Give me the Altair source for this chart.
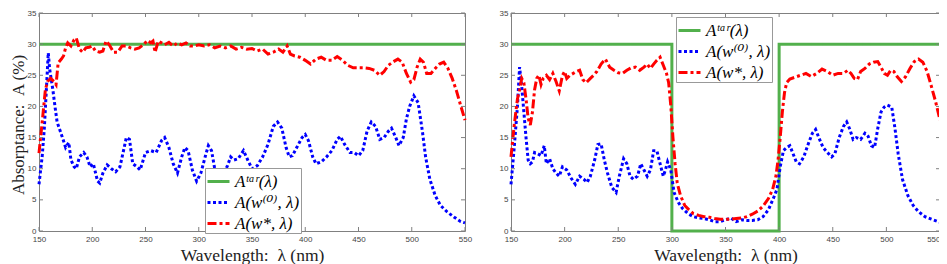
import altair as alt
import pandas as pd

# ---------------- data ----------------
x_ticks = [150, 200, 250, 300, 350, 400, 450, 500, 550]
y_ticks = [0, 5, 10, 15, 20, 25, 30, 35]

series_names = ["Aᵗᵃʳ(λ)", "A(w⁽⁰⁾, λ)", "A(w*, λ)"]
series_colors = ["#52b04c", "#0000ff", "#ff0000"]
series_dashes = [[1, 0], [3, 2.5], [9, 3, 3, 3]]

# left panel: flat target
L_tar_x = [150, 550]
L_tar_y = [30, 30]

L_w0_x = [150, 153, 155, 157, 158.7, 160, 163, 165, 167, 170, 173, 175, 178, 180, 183, 185, 188, 192,
          195, 198, 201, 205, 207, 210, 214, 218, 222, 226, 230, 232, 235, 238, 242, 245, 250, 255,
          260, 265, 268, 272, 276, 280, 284, 287, 290, 294, 298, 302, 306, 309, 312, 315, 319, 323,
          327, 330, 333, 337, 342, 346, 350, 355, 360, 365, 370, 374, 378, 382, 385, 388, 392, 397,
          400, 403, 407, 410, 415, 420, 425, 430, 433, 437, 442, 446, 450, 454, 458, 462, 466, 470,
          474, 478, 481, 485, 488, 492, 495, 498, 502, 506, 510, 513, 517, 522, 527, 533, 540, 546, 550]
L_w0_y = [7.5, 12, 16.5, 23, 28.6, 26, 22.7, 20, 17.5, 16, 14.5, 13.4, 14.2, 11.4, 10.3, 10, 11.9, 12.6,
          11.9, 10.3, 10.8, 8, 7.7, 9.3, 10.6, 10, 9.5, 10.3, 13.4, 15, 14.7, 10.8, 10.3, 9.8, 12.6, 12.9,
          12.6, 14.5, 15, 13.4, 10.8, 9.3, 11.9, 13.4, 12.9, 9.8, 8, 9.3, 11.9, 13.7, 12.9, 10, 9.5, 9.0,
          10.5, 11.9, 11.4, 11.6, 12.9, 11.4, 10, 10.5, 11.9, 13.9, 16.8, 17.5, 16.5, 13.4, 11.9, 12.1, 13.4, 15,
          15.5, 14.5, 11.9, 10.8, 11.1, 11.9, 12.9, 14.7, 15.2, 13.9, 12.6, 12.6, 12.1, 12.9, 16, 17.5, 16.8, 14.7,
          15, 16, 16.5, 15, 13.7, 15, 18, 20, 21.7, 20.6, 16, 11.9, 8.3, 5.7, 4.1, 3.1, 2.2, 1.5, 1.3]

L_ws_x = [150, 153, 156, 158, 161, 164, 166, 168, 171, 173, 175, 177, 180, 183, 185, 188, 191, 194, 197,
          200, 203, 207, 210, 213, 216, 220, 224, 228, 232, 236, 240, 244, 248, 252, 255, 257, 259, 262,
          265, 268, 272, 276, 280, 284, 288, 292, 296, 300, 305, 310, 315, 320, 325, 330, 335, 340, 345,
          350, 355, 360, 365, 370, 375, 379, 383, 386, 390, 395, 400, 405, 410, 415, 420, 425, 430, 435,
          440, 445, 450, 455, 460, 465, 470, 474, 478, 482, 487, 491, 495, 499, 502, 505, 508, 511, 514,
          518, 522, 526, 530, 534, 538, 542, 546, 550]
L_ws_y = [12.5, 17.5, 22.7, 24, 24.5, 24, 23.5, 27, 27.6, 28.1, 29.4, 30.2, 29.7, 30.7, 31, 29.2, 28.7, 29.4, 29.5,
          29.7, 28.9, 28.7, 28.9, 30.5, 29.9, 28.7, 28.7, 29.7, 29.7, 29.4, 29.2, 29.4, 29.9, 30.6, 30.2, 30.5, 28.7, 30.5,
          30.2, 29.9, 30.3, 29.7, 30.2, 29.9, 30.2, 29.7, 29.7, 29.9, 29.7, 29.9, 29.4, 29.7, 29.4, 29.7, 29.2, 29.5, 29.2,
          29.3, 28.9, 29.2, 28.4, 28.7, 29.2, 28.7, 29.7, 28.4, 28.1, 27.9, 27.4, 26.8, 27.6, 27.9, 27.4, 27.4, 28, 27.4,
          26.6, 26.2, 26.2, 26.2, 26.1, 25.8, 25, 25.6, 26.6, 27.1, 27.6, 27.1, 25.3, 23.9, 24.3, 26.3, 27.6, 27.1, 25.3,
          25.3, 26.1, 26.8, 27.1, 26.1, 24.5, 22.5, 20.1, 17.8]

# right panel: notch target
R_tar_x = [150, 300, 300, 400, 400, 550]
R_tar_y = [30, 30, 0, 0, 30, 30]

R_w0_x = [150, 153, 156, 158, 160, 162, 164, 166, 168, 170, 172, 175, 178, 181, 183, 186, 189, 192, 195,
          198, 202, 206, 210, 214, 218, 221, 224, 228, 231, 234, 237, 240, 244, 248, 251, 255, 258, 261,
          264, 268, 271, 274, 277, 280, 283, 286, 289, 292, 294, 296, 299, 302, 306, 310, 315, 320, 325,
          330, 335, 340, 345, 350, 355, 360, 365, 370, 375, 380, 385, 390, 395, 398, 401, 404, 407, 410,
          413, 416, 419, 423, 427, 431, 434, 437, 441, 445, 449, 452, 456, 460, 463, 466, 469, 472, 476,
          480, 483, 486, 489, 492, 495, 498, 501, 505, 508, 511, 515, 520, 525, 530, 536, 542, 550]
R_w0_y = [7.5, 13.4, 20, 26.3, 23.2, 19.1, 15, 11.4, 10.8, 11.1, 12.6, 12.4, 12.1, 13.7, 10.8, 11.6, 10, 9.3, 8.8,
          10.3, 9.8, 8.5, 7.5, 8.8, 8.3, 7.8, 8.8, 11.4, 13.9, 14, 11.4, 9.3, 7, 6.2, 8.8, 11.6, 10.8, 8.8,
          8.3, 8.8, 10.8, 9.8, 8.8, 9.8, 12.9, 12.9, 10.8, 8.8, 9.8, 11.1, 9.8, 6.2, 4.6, 3.6, 2.8, 2.3, 2.1,
          2, 1.8, 1.5, 1.5, 1.8, 2.1, 1.5, 1.8, 1.7, 1.7, 1.8, 2.3, 3.4, 5.4, 6.7, 10.3, 12.9, 13.4, 13.7,
          12.4, 11.1, 10.8, 11.9, 13.9, 15.7, 16.3, 15, 13.4, 12.6, 11.9, 12.4, 15, 16.8, 17.5, 16.3, 14.7, 15, 14.7,
          15.7, 15.2, 13.7, 13.4, 16.5, 19.1, 19.9, 20.2, 19.9, 16.5, 12.4, 8.3, 5.7, 4.1, 3.1, 2.3, 1.9, 1.4]

R_ws_x = [150, 153, 156, 158, 160, 162, 164, 166, 168, 170, 172, 174, 176, 178, 180, 183, 186, 189, 192,
          195, 198, 200, 202, 205, 208, 211, 214, 217, 220, 224, 227, 230, 234, 238, 242, 246, 250, 254,
          258, 262, 266, 270, 274, 277, 280, 283, 286, 289, 292, 295, 297, 299, 301, 303, 305, 308, 312,
          316, 320, 325, 330, 335, 340, 345, 350, 355, 360, 365, 370, 375, 380, 385, 390, 394, 397, 399,
          401, 403, 405, 407, 410, 415, 420, 425, 430, 435, 440, 445, 450, 455, 460, 464, 467, 470, 473,
          476, 480, 484, 488, 492, 495, 498, 501, 504, 507, 510, 514, 518, 522, 526, 530, 534, 538, 542, 546, 550]
R_ws_y = [11.9, 17, 21.2, 22.7, 24.5, 23.8, 21.2, 18.1, 17, 19.1, 22.7, 24.5, 25, 23.5, 24.5, 25, 24.3, 25.3, 24,
          22.5, 25, 25.6, 24.5, 25, 25.3, 25.6, 25.8, 24.3, 23.8, 24.5, 25, 25.6, 26.8, 27.6, 26.3, 25.8, 25.4, 25.3,
          25.8, 26.2, 26.3, 25.8, 26.3, 26.8, 26.1, 26.8, 27.4, 27.9, 26.6, 25.3, 23.8, 20.1, 15, 10.8, 7.7, 5.7, 4.1,
          3.4, 2.8, 2.5, 2.3, 2.2, 2, 1.9, 1.9, 1.9, 2, 2.1, 2.3, 2.7, 3.2, 4, 5.2, 6.7, 8.8, 11.4,
          15, 19.1, 22.2, 23.8, 24.4, 24.7, 25, 25.3, 24.8, 25.3, 26, 25.6, 25, 25.3, 25.3, 25.8, 25.3, 24.5, 24.3,
          25.6, 26.1, 26.8, 27.1, 27.2, 26.3, 25.3, 25, 25.8, 25.6, 24.8, 24, 24.8, 26.1, 27.2, 27.6, 27.1, 25.6, 23.2, 20.7, 17.8]

# ---------------- styling ----------------
AX = "#808080"
W_L, W_R, H = 426, 429, 218
SERIF = "Liberation Serif, DejaVu Serif, serif"
SANS = "Liberation Sans, Arial, sans-serif"


def make_df(xs, ys, name):
    return pd.DataFrame({"wl": xs, "A": ys, "series": name, "idx": list(range(len(xs)))})


def panel(tar, w0, ws, width, lx, ly, ytitle, flush_last):
    xscale = alt.Scale(domain=[150, 550], nice=False, zero=False)
    yscale = alt.Scale(domain=[0, 35], nice=False)
    xargs = dict(values=x_ticks, ticks=False, domain=False, grid=False,
                 labelFont=SANS, labelFontSize=8, labelColor="#444444", labelPadding=4,
                 labelFlush=False, title="Wavelength:\u00a0\u00a0λ (nm)", titleFont=SERIF,
                 titleFontSize=17.5, titleFontWeight="normal", titleColor="#222222",
                 titlePadding=3)
    if flush_last:
        xargs["labelAlign"] = {"condition": {"test": "datum.value >= 550", "value": "right"},
                               "value": "center"}
    xaxis = alt.Axis(**xargs)
    yargs = dict(values=y_ticks, ticks=False, domain=False, grid=False,
                 labelFont=SANS, labelFontSize=8, labelColor="#444444", labelPadding=3,
                 labelFlush=False)
    if ytitle:
        yaxis = alt.Axis(title=ytitle, titleFont=SERIF, titleFontSize=17, titleY=111.5,
                         titleFontWeight="normal", titleColor="#222222", titlePadding=0, **yargs)
    else:
        yaxis = alt.Axis(title=None, **yargs)
    leg = alt.Legend(title=None, orient="none", legendX=lx, legendY=ly, symbolType="stroke",
                     symbolSize=484, symbolStrokeWidth=3, labelFont=SERIF, labelFontSize=17,
                     labelFontStyle="italic", labelColor="black", strokeColor="#999999",
                     fillColor="white", padding=1, rowPadding=-4, labelOffset=4, labelLimit=300,
                     direction="vertical")
    cscale = alt.Scale(domain=series_names, range=series_colors)
    dscale = alt.Scale(domain=series_names, range=series_dashes)

    layers = []
    for xs_ys, name in zip([tar, w0, ws], series_names):
        df = make_df(xs_ys[0], xs_ys[1], name)
        layers.append(
            alt.Chart(df).mark_line(strokeWidth=3, strokeCap="butt", clip=False).encode(
                x=alt.X("wl:Q", scale=xscale, axis=xaxis),
                y=alt.Y("A:Q", scale=yscale, axis=yaxis),
                color=alt.Color("series:N", scale=cscale, legend=leg),
                strokeDash=alt.StrokeDash("series:N", scale=dscale, legend=leg),
                order="idx:Q",
            )
        )
    xt = pd.DataFrame({"wl": x_ticks})
    yt = pd.DataFrame({"A": y_ticks})
    tick_style = dict(color=AX, strokeWidth=1)
    layers += [
        alt.Chart(xt).mark_rule(**tick_style).encode(
            x=alt.X("wl:Q", scale=xscale, axis=xaxis), y=alt.value(H), y2=alt.value(H - 4)),
        alt.Chart(xt).mark_rule(**tick_style).encode(
            x=alt.X("wl:Q", scale=xscale, axis=xaxis), y=alt.value(0), y2=alt.value(4)),
        alt.Chart(yt).mark_rule(**tick_style).encode(
            y=alt.Y("A:Q", scale=yscale, axis=yaxis), x=alt.value(0), x2=alt.value(4)),
        alt.Chart(yt).mark_rule(**tick_style).encode(
            y=alt.Y("A:Q", scale=yscale, axis=yaxis), x=alt.value(width), x2=alt.value(width - 4)),
    ]
    return alt.layer(*layers).properties(width=width, height=H)


left = panel((L_tar_x, L_tar_y), (L_w0_x, L_w0_y), (L_ws_x, L_ws_y), W_L, 166, 155,
             "Absorptance:\u00a0\u00a0A (%)", False)
right = panel((R_tar_x, R_tar_y), (R_w0_x, R_w0_y), (R_ws_x, R_ws_y), W_R, 165, 4, None, True)

chart = (
    alt.hconcat(left, right, spacing=25)
    .resolve_scale(color="independent", strokeDash="independent")
    .resolve_legend(color="independent", strokeDash="independent")
    .properties(padding={"left": 0, "top": 0, "right": -8, "bottom": 0}, background="white")
    .configure_view(stroke=AX, strokeWidth=1)
)

chart.save("out.html", embed_options={"renderer": "svg", "actions": False})
